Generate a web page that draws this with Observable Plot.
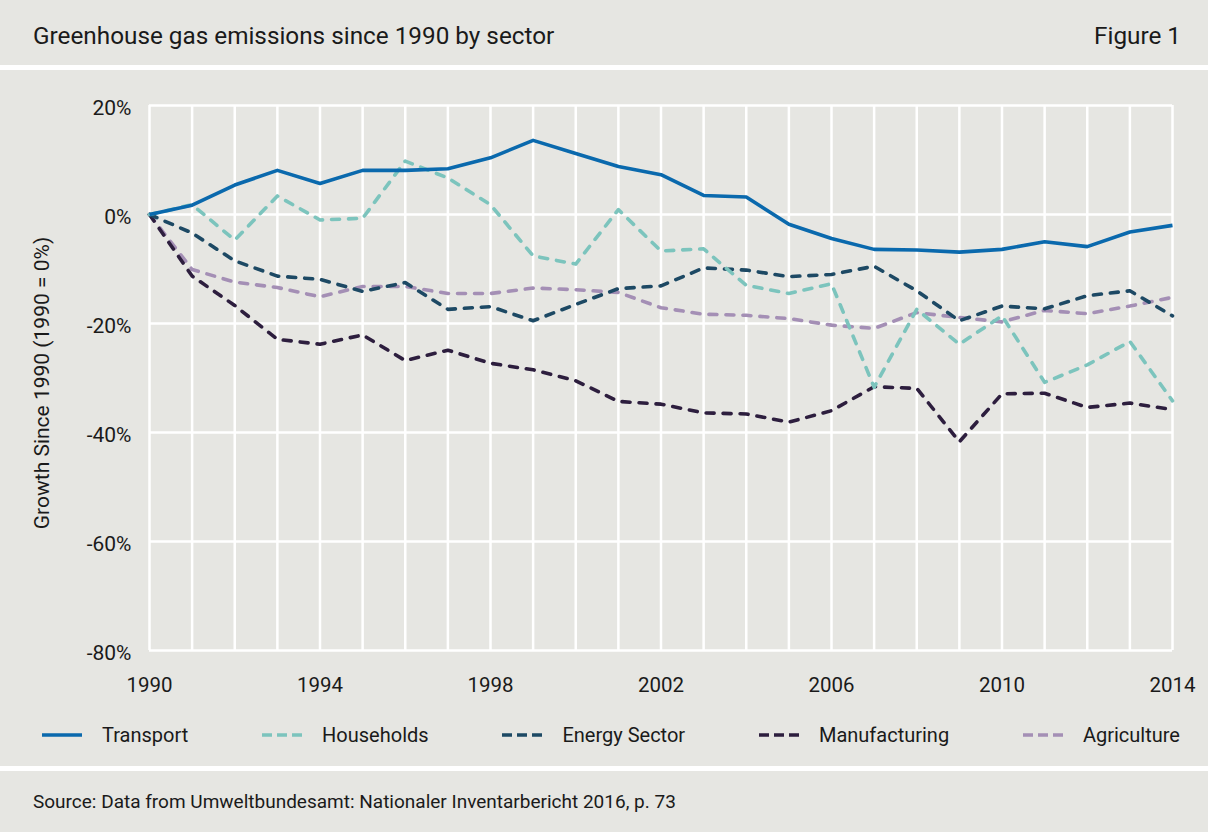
<!DOCTYPE html>
<html><head><meta charset="utf-8">
<script src="https://cdn.jsdelivr.net/npm/d3@7"></script>
<script src="https://cdn.jsdelivr.net/npm/@observablehq/plot@0.6"></script>
<style>
body{margin:0;background:#e6e6e2;font-family:Roboto,sans-serif;color:#1a1a1a;}
#page{width:1208px;height:832px;position:relative;overflow:hidden;background:#e6e6e2}
#header{height:65px;display:flex;justify-content:space-between;align-items:center;padding:5px 27px 0 33px;font-size:24.3px;box-sizing:border-box}
.rule{height:5px;background:#fff}
#chart{height:640px}
#legend{height:56px;display:flex;justify-content:space-between;align-items:center;padding:0 28px 6px 42px;font-size:20px;box-sizing:border-box}
.item{display:flex;align-items:center}
.item svg{margin-right:20px}
#footer{height:61px;display:flex;align-items:center;padding-left:33px;font-size:19px;box-sizing:border-box}
</style>
</head><body>
<div id="page">
  <div id="header"><span id="title"></span><span id="fig"></span></div>
  <div class="rule"></div>
  <div id="chart"></div>
  <div id="legend"></div>
  <div class="rule"></div>
  <div id="footer"></div>
</div>
<script>
const title = "Greenhouse gas emissions since 1990 by sector";
const figureLabel = "Figure 1";
const yLabel = "Growth Since 1990 (1990 = 0%)";
const source = "Source: Data from Umweltbundesamt: Nationaler Inventarbericht 2016, p. 73";

const years = [1990,1991,1992,1993,1994,1995,1996,1997,1998,1999,2000,2001,2002,2003,2004,2005,2006,2007,2008,2009,2010,2011,2012,2013,2014];
const xTicks = [1990,1994,1998,2002,2006,2010,2014];
const yTicks = [20,0,-20,-40,-60,-80];

const sectors = ["Transport","Households","Energy Sector","Manufacturing","Agriculture"];
const colors = ["#0a69ad","#7cc4bd","#1d4964","#2d1e3e","#a48fb5"];

const transport     = [0,1.7,5.4,8.1,5.7,8.1,8.1,8.4,10.4,13.6,11.2,8.8,7.3,3.5,3.2,-1.8,-4.4,-6.4,-6.5,-6.9,-6.4,-5.0,-5.9,-3.2,-2.0];
const households    = [0,1.8,-4.7,3.4,-1.0,-0.7,9.8,6.7,1.8,-7.6,-9.1,0.9,-6.7,-6.3,-13.0,-14.5,-12.7,-31.7,-17.4,-23.8,-18.6,-30.8,-27.6,-23.3,-34.2];
const energySector  = [0,-3.4,-8.5,-11.3,-11.9,-14.1,-12.5,-17.4,-16.9,-19.5,-16.5,-13.6,-13.1,-9.8,-10.2,-11.4,-11.0,-9.5,-14.0,-19.5,-16.8,-17.3,-14.9,-14.0,-18.6];
const manufacturing = [0,-11.3,-16.7,-22.9,-23.8,-22.1,-26.8,-24.9,-27.3,-28.5,-30.5,-34.3,-34.8,-36.4,-36.6,-38.1,-36.0,-31.6,-31.9,-41.7,-32.9,-32.8,-35.4,-34.6,-35.8];
const agriculture   = [0,-10.1,-12.4,-13.4,-15.1,-13.2,-13.2,-14.5,-14.5,-13.5,-13.8,-14.3,-17.1,-18.3,-18.5,-19.1,-20.3,-20.9,-18.0,-18.9,-19.7,-17.6,-18.2,-16.8,-15.2];

const seriesValues = [transport, households, energySector, manufacturing, agriculture];
const dashes = [null, "8,9", "8,9", "8,9", "8,9"];

const data = [];
sectors.forEach((s, i) => years.forEach((y, j) => data.push({sector: s, year: y, value: seriesValues[i][j]})));

document.getElementById("title").textContent = title;
document.getElementById("fig").textContent = figureLabel;
document.getElementById("footer").textContent = source;

const lineMarks = sectors.slice().reverse().map(s => {
  const i = sectors.indexOf(s);
  return Plot.line(data.filter(d => d.sector === s), {
    x: "year", y: "value", stroke: colors[i], strokeWidth: 3.6,
    strokeDasharray: dashes[i] || undefined,
    strokeLinecap: dashes[i] ? "round" : "butt",
    strokeLinejoin: "round"
  });
});

const fmtY = d => (d < 0 ? "-" : "") + Math.abs(d) + "%";
const chart = Plot.plot({
  width: 1208, height: 640,
  marginLeft: 149, marginRight: 36, marginTop: 35, marginBottom: 60,
  style: {background: "transparent", fontFamily: "Roboto, sans-serif", fontSize: "20px", color: "#1a1a1a"},
  x: {domain: [1990, 2014], ticks: xTicks, tickFormat: d => String(d), label: null},
  y: {domain: [-80, 20], ticks: yTicks, tickFormat: fmtY, label: null},
  marks: [
    Plot.ruleX(years, {x: d => d, y1: -80, y2: 20, stroke: "#fff", strokeWidth: 2.5}),
    Plot.ruleY(yTicks, {y: d => d, stroke: "#fff", strokeWidth: 2.5}),
    Plot.axisX({ticks: xTicks, tickSize: 0, tickPadding: 27, tickFormat: d => String(d), fontSize: 20.5, label: null}),
    Plot.axisY({ticks: yTicks, tickSize: 0, tickPadding: 18, dy: 3, tickFormat: fmtY, fontSize: 21, label: null}),
    Plot.text([yLabel], {frameAnchor: "left", dx: -107, dy: 5, rotate: -90, text: d => d, fontSize: 21, fill: "#1a1a1a", textAnchor: "middle"}),
    ...lineMarks
  ]
});
document.getElementById("chart").appendChild(chart);

const legend = document.getElementById("legend");
sectors.forEach((s, i) => {
  const item = document.createElement("div");
  item.className = "item";
  const ns = "http://www.w3.org/2000/svg";
  const sw = document.createElementNS(ns, "svg");
  sw.setAttribute("width", 40); sw.setAttribute("height", 10);
  const ln = document.createElementNS(ns, "line");
  ln.setAttribute("x1", 0); ln.setAttribute("x2", 40); ln.setAttribute("y1", 5); ln.setAttribute("y2", 5);
  ln.setAttribute("stroke", colors[i]); ln.setAttribute("stroke-width", 3.6);
  if (dashes[i]) ln.setAttribute("stroke-dasharray", "10,5");
  sw.appendChild(ln);
  const t = document.createElement("span");
  t.textContent = s;
  item.appendChild(sw); item.appendChild(t);
  legend.appendChild(item);
});
</script>
</body></html>
